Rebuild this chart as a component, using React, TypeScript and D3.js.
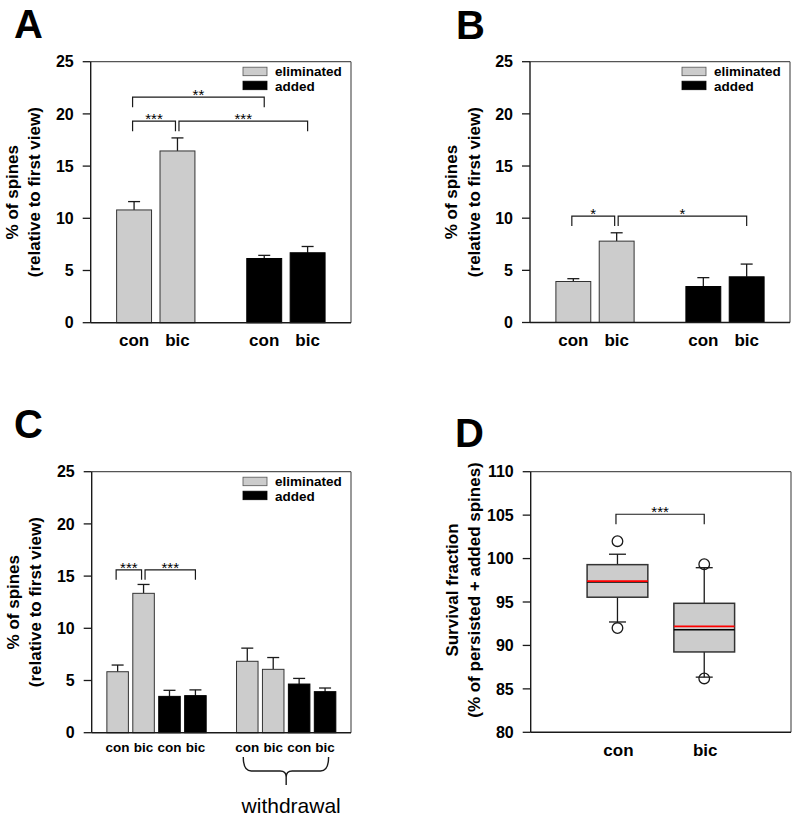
import React from "react";
import * as d3 from "d3";

const FONT = "'Liberation Sans', Arial, Helvetica, sans-serif";

// ---- shared labels ----
const groupLabels = ["con", "bic"];
const legendLabels = ["eliminated", "added"];
const barTicks = [0, 5, 10, 15, 20, 25];
const boxTicks = [80, 85, 90, 95, 100, 105, 110];
const barYLabel = ["% of spines", "(relative to first view)"];
const boxYLabel = ["Survival fraction", "(% of persisted + added spines)"];
const withdrawalLabel = "withdrawal";

// ---- Panel A ----
const aEliminated = [10.8, 16.45];
const aEliminatedErr = [0.8, 1.25];
const aAdded = [6.15, 6.7];
const aAddedErr = [0.3, 0.6];
// [fromBar, toBar, yValue, stars]
const aBrackets: [number, number, number, string][] = [
  [0, 2, 21.6, "**"],
  [0, 1, 19.3, "***"],
  [1, 3, 19.3, "***"],
];

// ---- Panel B ----
const bEliminated = [3.93, 7.8];
const bEliminatedErr = [0.27, 0.8];
const bAdded = [3.45, 4.38];
const bAddedErr = [0.85, 1.22];
const bBrackets: [number, number, number, string][] = [
  [0, 1, 10.2, "*"],
  [1, 3, 10.2, "*"],
];

// ---- Panel C ----
const cEliminated = [5.84, 13.35];
const cEliminatedErr = [0.64, 0.85];
const cAdded = [3.48, 3.55];
const cAddedErr = [0.58, 0.55];
const cWithdrawalEliminated = [6.84, 6.07];
const cWithdrawalEliminatedErr = [1.26, 1.13];
const cWithdrawalAdded = [4.66, 3.93];
const cWithdrawalAddedErr = [0.54, 0.35];
const cBrackets: [number, number, number, string][] = [
  [0, 1, 15.6, "***"],
  [1, 3, 15.6, "***"],
];

// ---- Panel D (box plot) ----
const boxCategories = ["con", "bic"];
const boxQ1 = [95.55, 89.25];
const boxMedian = [97.3, 91.8];
const boxMean = [97.4, 92.2];
const boxQ3 = [99.3, 94.85];
const boxWhiskerLow = [92.7, 86.35];
const boxWhiskerHigh = [100.5, 98.95];
const boxOutliersCon = [102.0, 92.0];
const boxOutliersBic = [99.35, 86.2];
const dBrackets: [number, number, number, string][] = [[0, 1, 105.1, "***"]];

const GRAY = "#cccccc";
const INK = "#1a1a1a";

type Bar = { value: number; err: number; series: number; label: string; slot: number };

function PanelLetter({ x, y, t }: { x: number; y: number; t: string }) {
  return (
    <text x={x} y={y} fontFamily={FONT} fontWeight="bold" fontSize={40} fill="#000">
      {t}
    </text>
  );
}

function Frame({ left, top, right, bottom }: any) {
  return (
    <g>
      <line x1={left} x2={right} y1={top} y2={top} stroke="#555" strokeWidth={1.2} />
      <line x1={right} x2={right} y1={top} y2={bottom} stroke="#555" strokeWidth={1.2} />
      <line x1={left} x2={left} y1={top} y2={bottom} stroke={INK} strokeWidth={1.4} />
      <line x1={left} x2={right} y1={bottom} y2={bottom} stroke={INK} strokeWidth={1.4} />
    </g>
  );
}

function YAxis({ y, ticks, left, labelLines, midY }: any) {
  return (
    <g>
      {ticks.map((t: number) => (
        <g key={t}>
          <line x1={left - 8} x2={left} y1={y(t)} y2={y(t)} stroke={INK} strokeWidth={1.3} />
          <text
            x={left - 17}
            y={y(t)}
            dy="0.36em"
            textAnchor="end"
            fontFamily={FONT}
            fontWeight="bold"
            fontSize={16}
            fill="#000"
          >
            {t}
          </text>
        </g>
      ))}
      {labelLines.map((s: string, i: number) => (
        <text
          key={s}
          transform={`translate(${left - 73 + i * 22.5},${midY}) rotate(-90)`}
          textAnchor="middle"
          fontFamily={FONT}
          fontWeight="bold"
          fontSize={17}
          fill="#000"
        >
          {s}
        </text>
      ))}
    </g>
  );
}

function Brackets({ list, cx, y }: { list: [number, number, number, string][]; cx: (i: number) => number; y: any }) {
  return (
    <g>
      {list.map(([a, b, v, s], k) => {
        const sharedStart = list.some((o, j) => j !== k && o[1] === a && o[2] === v);
        const sharedEnd = list.some((o, j) => j !== k && o[0] === b && o[2] === v);
        const x1 = cx(a) + (sharedStart ? 1.5 : -1.5);
        const x2 = cx(b) + (sharedEnd ? -2 : 0);
        const yy = y(v);
        return (
          <g key={k}>
            <path
              d={`M${x1},${yy + 10}V${yy}H${x2}V${yy + 10}`}
              fill="none"
              stroke={INK}
              strokeWidth={1.2}
            />
            <text
              x={(x1 + x2) / 2}
              y={yy + 3}
              textAnchor="middle"
              fontFamily={FONT}
              fontSize={15}
              fill="#000"
            >
              {s}
            </text>
          </g>
        );
      })}
    </g>
  );
}

function Legend({ right, top }: { right: number; top: number }) {
  const x0 = right - 108;
  return (
    <g>
      {legendLabels.map((l, i) => (
        <g key={l}>
          <rect
            x={x0}
            y={top + 5.5 + i * 14}
            width={24}
            height={8.5}
            fill={i === 0 ? GRAY : "#000"}
            stroke={i === 0 ? "#555" : "#000"}
            strokeWidth={0.8}
          />
          <text
            x={x0 + 32}
            y={top + 13.8 + i * 15}
            fontFamily={FONT}
            fontWeight="bold"
            fontSize={13.5}
            fill="#000"
          >
            {l}
          </text>
        </g>
      ))}
    </g>
  );
}

function BarPanel({
  left,
  top,
  right,
  bottom,
  bars,
  nSlots,
  barFrac,
  brackets,
  labelSize,
  labelDy,
}: {
  left: number;
  top: number;
  right: number;
  bottom: number;
  bars: Bar[];
  nSlots: number;
  barFrac: number;
  brackets: [number, number, number, string][];
  labelSize: number;
  labelDy: number;
}) {
  const x = d3.scaleLinear().domain([0, nSlots]).range([left, right]);
  const y = d3.scaleLinear().domain([0, 25]).range([bottom, top]);
  const step = x(1) - x(0);
  const bw = step * barFrac;
  const cx = (i: number) => x(bars[i].slot);
  return (
    <g>
      {bars.map((b, i) => {
        const c = x(b.slot);
        const yt = y(b.value);
        const ye = y(b.value + b.err);
        return (
          <g key={i}>
            <line x1={c} x2={c} y1={yt} y2={ye} stroke={INK} strokeWidth={1.3} />
            <line x1={c - 6} x2={c + 6} y1={ye} y2={ye} stroke={INK} strokeWidth={1.3} />
            <rect
              x={c - bw / 2}
              y={yt}
              width={bw}
              height={bottom - yt}
              fill={b.series === 0 ? GRAY : "#000"}
              stroke={b.series === 0 ? "#333" : "#000"}
              strokeWidth={1}
            />
            <text
              x={c}
              y={bottom + labelDy}
              textAnchor="middle"
              fontFamily={FONT}
              fontWeight="bold"
              fontSize={labelSize}
              fill="#000"
            >
              {b.label}
            </text>
          </g>
        );
      })}
      <Frame left={left} top={top} right={right} bottom={bottom} />
      <YAxis y={y} ticks={barTicks} left={left} labelLines={barYLabel} midY={(top + bottom) / 2} />
      <Legend right={right} top={top} />
      <Brackets list={brackets} cx={cx} y={y} />
    </g>
  );
}

function makeBars(elim: number[], elimErr: number[], add: number[], addErr: number[], slots: number[]): Bar[] {
  const out: Bar[] = [];
  elim.forEach((v, i) => out.push({ value: v, err: elimErr[i], series: 0, label: groupLabels[i], slot: 0 }));
  add.forEach((v, i) => out.push({ value: v, err: addErr[i], series: 1, label: groupLabels[i], slot: 0 }));
  out.forEach((b, i) => (b.slot = slots[i]));
  return out;
}

function BoxPanel({ left, top, right, bottom }: any) {
  const x = d3.scaleLinear().domain([0, boxCategories.length + 1]).range([left, right]);
  const y = d3.scaleLinear().domain([80, 110]).range([bottom, top]);
  const step = x(1) - x(0);
  const bw = step * 0.7;
  const outliers = [boxOutliersCon, boxOutliersBic];
  return (
    <g>
      {boxCategories.map((c, i) => {
        const cx = x(i + 1);
        return (
          <g key={c}>
            <line x1={cx} x2={cx} y1={y(boxQ3[i])} y2={y(boxWhiskerHigh[i])} stroke={INK} strokeWidth={1.3} />
            <line x1={cx} x2={cx} y1={y(boxQ1[i])} y2={y(boxWhiskerLow[i])} stroke={INK} strokeWidth={1.3} />
            <line x1={cx - 8.5} x2={cx + 8.5} y1={y(boxWhiskerHigh[i])} y2={y(boxWhiskerHigh[i])} stroke={INK} strokeWidth={1.3} />
            <line x1={cx - 8.5} x2={cx + 8.5} y1={y(boxWhiskerLow[i])} y2={y(boxWhiskerLow[i])} stroke={INK} strokeWidth={1.3} />
            <rect
              x={cx - bw / 2}
              y={y(boxQ3[i])}
              width={bw}
              height={y(boxQ1[i]) - y(boxQ3[i])}
              fill={GRAY}
              stroke="#333"
              strokeWidth={1.5}
            />
            <line x1={cx - bw / 2} x2={cx + bw / 2} y1={y(boxMedian[i])} y2={y(boxMedian[i])} stroke="#000" strokeWidth={1.5} />
            <line x1={cx - bw / 2} x2={cx + bw / 2} y1={y(boxMean[i])} y2={y(boxMean[i])} stroke="#ff0000" strokeWidth={1.8} />
            {outliers[i].map((o, k) => (
              <circle key={k} cx={cx} cy={y(o)} r={5.3} fill="none" stroke={INK} strokeWidth={1.3} />
            ))}
            <text
              x={cx + 1}
              y={bottom + 24}
              textAnchor="middle"
              fontFamily={FONT}
              fontWeight="bold"
              fontSize={17}
              fill="#000"
            >
              {c}
            </text>
          </g>
        );
      })}
      <Frame left={left} top={top} right={right} bottom={bottom} />
      <YAxis y={y} ticks={boxTicks} left={left} labelLines={boxYLabel} midY={590} />
      <Brackets list={dBrackets} cx={(i: number) => x(i + 1)} y={y} />
    </g>
  );
}

export default function App() {
  const barsA = makeBars(aEliminated, aEliminatedErr, aAdded, aAddedErr, [1, 2, 4, 5]);
  const barsB = makeBars(bEliminated, bEliminatedErr, bAdded, bAddedErr, [1, 2, 4, 5]);
  const barsC = [
    ...makeBars(cEliminated, cEliminatedErr, cAdded, cAddedErr, [1, 2, 3, 4]),
    ...makeBars(cWithdrawalEliminated, cWithdrawalEliminatedErr, cWithdrawalAdded, cWithdrawalAddedErr, [6, 7, 8, 9]),
  ];

  // withdrawal brace geometry from the panel C scale
  const cLeft = 91.7;
  const cRight = 351;
  const xc = d3.scaleLinear().domain([0, 10]).range([cLeft, cRight]);
  const bl = xc(6) - 4;
  const br = xc(9) + 3.5;
  const bm = (xc(7) + xc(8)) / 2;
  const yt = 757;
  const yh = 771;
  const yb = 785;
  const brace = `M${bl},${yt} Q${bl},${yh} ${bl + 8},${yh} L${bm - 6},${yh} Q${bm},${yh} ${bm},${yh + 6} L${bm},${yb}` +
    ` M${br},${yt} Q${br},${yh} ${br - 8},${yh} L${bm + 6},${yh} Q${bm},${yh} ${bm},${yh + 6}`;

  return (
    <svg
      width={800}
      height={817}
      style={{ position: "absolute", left: 0, top: 0, background: "#fff" }}
    >
      <rect width={800} height={817} fill="#fff" />
      <PanelLetter x={14} y={38} t="A" />
      <PanelLetter x={456} y={39} t="B" />
      <PanelLetter x={14} y={438} t="C" />
      <PanelLetter x={455} y={447} t="D" />

      <BarPanel left={90.7} top={61.7} right={351} bottom={322.7} bars={barsA} nSlots={6} barFrac={0.805} brackets={aBrackets} labelSize={17} labelDy={23} />
      <BarPanel left={530} top={61.7} right={790} bottom={322.5} bars={barsB} nSlots={6} barFrac={0.805} brackets={bBrackets} labelSize={17} labelDy={23} />
      <BarPanel left={cLeft} top={471.7} right={cRight} bottom={732.7} bars={barsC} nSlots={10} barFrac={0.83} brackets={cBrackets} labelSize={13.5} labelDy={19} />
      <path d={brace} fill="none" stroke={INK} strokeWidth={1.4} />
      <text x={bm + 5} y={813} textAnchor="middle" fontFamily={FONT} fontSize={21} fill="#000">
        {withdrawalLabel}
      </text>

      <BoxPanel left={530.7} top={471.7} right={791} bottom={732.3} />
    </svg>
  );
}
